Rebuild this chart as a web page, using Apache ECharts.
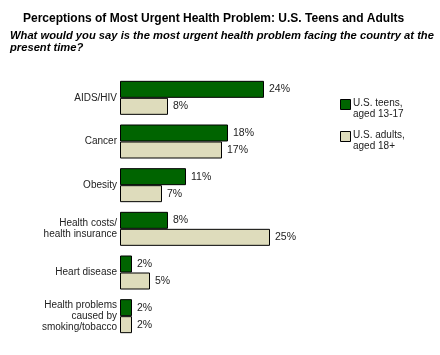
<!DOCTYPE html>
<html><head><meta charset="utf-8">
<script src="https://cdn.jsdelivr.net/npm/echarts@6/dist/echarts.min.js"></script>
<style>html,body{margin:0;padding:0;background:#fff}#c{width:440px;height:355px}</style>
</head><body><div id="c"></div>
<script>
const categories = ["AIDS/HIV", "Cancer", "Obesity", "Health costs/\nhealth insurance", "Heart disease", "Health problems\ncaused by\nsmoking/tobacco"];
const teens = [24, 18, 11, 8, 2, 2];
const adults = [8, 17, 7, 25, 5, 2];
const seriesNames = ["U.S. teens,\naged 13-17", "U.S. adults,\naged 18+"];
const titleText = "Perceptions of Most Urgent Health Problem: U.S. Teens and Adults";
const subtitleText = "What would you say is the most urgent health problem facing the country at the\npresent time?";

const FONT = "'Liberation Sans', Arial, sans-serif";
const colors = ['#006400', '#dedcbc'];
const chart = echarts.init(document.getElementById('c'));
const labelCfg = {show: true, position: 'right', distance: 5, formatter: '{c}%', color: '#222', fontFamily: FONT, fontSize: 10.5};
const legendGraphics = [];
seriesNames.forEach((n, i) => {
  const y = 99 + i * 32;
  legendGraphics.push({type: 'rect', left: 340, top: y, shape: {width: 10, height: 10},
    style: {fill: colors[i], stroke: '#000', lineWidth: 1}});
  legendGraphics.push({type: 'text', left: 353, top: y - 1,
    style: {text: n, font: '10px ' + FONT, fill: '#222', lineHeight: 11}});
});
chart.setOption({
  animation: false,
  color: colors,
  title: [
    {text: titleText, left: 18, top: 8, textStyle: {fontFamily: FONT, fontSize: 12, fontWeight: 'bold', color: '#000'}},
    {text: subtitleText, left: 5, top: 25, textStyle: {fontFamily: FONT, fontSize: 11.2, fontWeight: 'bold', fontStyle: 'italic', color: '#000', lineHeight: 12}}
  ],
  graphic: legendGraphics,
  grid: {left: 120, top: 76, width: 300, height: 262},
  xAxis: {type: 'value', min: 0, max: 50, show: false},
  yAxis: {type: 'category', data: categories, inverse: true,
    axisLine: {show: false}, axisTick: {show: false},
    axisLabel: {fontFamily: FONT, fontSize: 10, color: '#222', margin: 3, lineHeight: 11, align: 'right'}},
  series: [
    {name: seriesNames[0], type: 'bar', data: teens, barWidth: 17, barGap: '0%',
      itemStyle: {color: colors[0], borderColor: '#000', borderWidth: 1}, label: labelCfg},
    {name: seriesNames[1], type: 'bar', data: adults, barWidth: 17,
      itemStyle: {color: colors[1], borderColor: '#000', borderWidth: 1}, label: labelCfg}
  ]
});
</script></body></html>
